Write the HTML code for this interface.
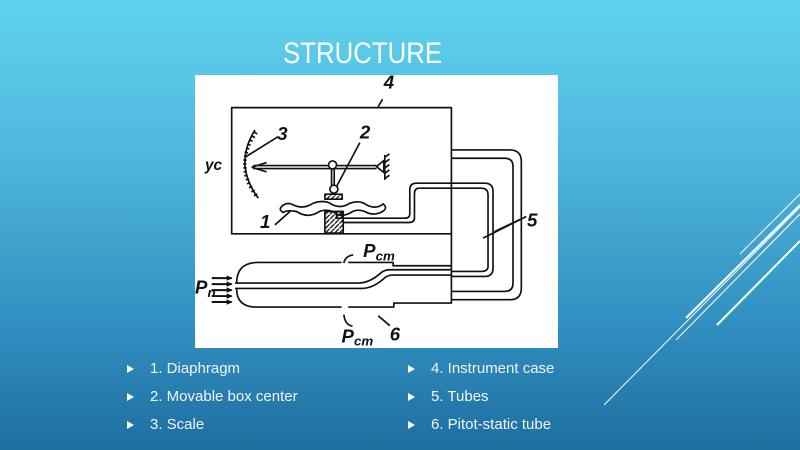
<!DOCTYPE html>
<html><head><meta charset="utf-8"><style>
html,body{margin:0;padding:0}
body{width:800px;height:450px;overflow:hidden;position:relative;background:linear-gradient(180deg,#5fd3ef 0%,#4fb6dc 35%,#3292c2 70%,#1e6ea0 100%);font-family:"Liberation Sans",sans-serif}
.t{position:absolute;left:283px;top:37px;font-size:30px;color:#fff;transform:scaleX(0.86);transform-origin:0 0}
.b{position:absolute;font-size:15px;color:#f2f6fa;line-height:28px}
.b div{position:relative;padding-left:23px;white-space:nowrap}
.b div:before{content:"";position:absolute;left:0;top:10px;border-left:7px solid #fff;border-top:4px solid transparent;border-bottom:4px solid transparent}
</style></head><body>
<svg width="800" height="450" style="position:absolute;left:0;top:0" stroke="#fff" fill="none">
<line x1="604" y1="405" x2="800" y2="207" stroke-width="1"/>
<line x1="686" y1="318" x2="800" y2="205" stroke-width="2"/>
<line x1="676" y1="340" x2="800" y2="214" stroke-width="1"/>
<line x1="717" y1="325" x2="800" y2="241" stroke-width="2"/>
<line x1="740" y1="254" x2="800" y2="194" stroke-width="1"/>
</svg>
<div class="t">STRUCTURE</div>
<svg style="position:absolute;left:195px;top:75px" width="363" height="273" viewBox="15 15 1090 820">
<defs><pattern id="h" width="14" height="14" patternUnits="userSpaceOnUse"><path d="M-2 16 L16 -2" stroke="#111" stroke-width="4"/></pattern></defs>
<rect x="15" y="15" width="1090" height="820" fill="#fff" stroke="none"/>
<g stroke="#111" stroke-width="5" fill="none" stroke-linejoin="round">
<rect x="125" y="113" width="660" height="379"/>
<path d="M785 240 H960 Q995 240 995 275 V655 Q995 690 960 690 H785"/>
<path d="M785 265 H945 Q970 265 970 290 V640 Q970 665 945 665 H785"/>
<path d="M785 620 H885 Q910 620 910 595 V365 Q910 340 885 340 H680 Q660 340 660 360 V432 Q660 445 645 445 H440 V425 H455 V435"/>
<path d="M785 605 H875 Q895 605 895 590 V375 Q895 355 875 355 H688 Q674 355 674 372 V445 Q674 458 657 458 H460"/>
<rect x="405" y="425" width="55" height="65" fill="url(#h)"/>
<path d="M785 492 V700 H612 V712 H475 M455 712 H200 Q140 712 140 658"/>
<path d="M140 640 Q140 580 200 578 H455 M475 578 H610 V588 H785"/>
<path d="M135 640 H505 Q540 640 575 608 Q585 600 600 600 H785"/>
<path d="M135 656 H515 Q550 656 585 624 Q595 616 610 616 H785"/>
<path d="M195 180 Q130 285 205 385"/>
<path d="M192 186 l10 6 M185 198 l10 5 M178 210 l10 4 M172 222 l10 4 M168 234 l10 3 M164 246 l10 3 M162 258 l10 2 M160 270 l10 1 M159 282 l10 1 M160 294 l10 0 M161 306 l10 -1 M163 318 l10 -2 M167 330 l10 -3 M171 342 l10 -4 M177 354 l10 -5 M184 366 l10 -5 M192 378 l10 -6"/>
<path d="M190 287 H560 M190 296 H560"/>
<path d="M185 292 L230 278 M185 292 L230 306"/>
<circle cx="428" cy="285" r="12" fill="#fff"/>
<circle cx="432" cy="358" r="12" fill="#fff"/>
<path d="M425 298 V346 M433 298 V346"/>
<rect x="405" y="373" width="52" height="15" fill="url(#h)"/>
<path d="M275 410 Q290 395 310 405 Q340 420 370 400 Q400 390 420 400 Q450 420 480 400 Q510 390 530 405 Q560 420 580 402 Q595 415 578 425 Q550 440 525 425 Q500 415 480 430 Q450 445 430 425 Q400 415 380 430 Q350 445 320 425 Q290 420 280 428 Q265 420 275 410"/>
<path d="M560 290 L582 272 V308 Z M585 255 V330"/>
<path d="M585 262 l14 -10 M585 278 l14 -10 M585 294 l14 -10 M585 310 l14 -10 M585 326 l14 -10"/>
<path d="M255 465 L300 425 M165 262 L265 200 M440 350 L510 218 M565 110 L578 88 M915 485 L1010 440 M880 505 L1010 440 M565 738 L600 768"/>
<path d="M490 555 Q465 560 462 580 M488 770 Q465 765 462 735"/>
</g>
<g fill="#111" font-family="Liberation Sans" font-style="italic" font-weight="bold" font-size="56">
<text x="582" y="55">4</text><text x="510" y="205">2</text><text x="262" y="210">3</text>
<text x="45" y="300" font-size="46">yc</text><text x="210" y="475">1</text>
<text x="1012" y="470">5</text><text x="600" y="812">6</text>
<text x="520" y="562">P<tspan font-size="40" dy="10">cm</tspan></text>
<text x="455" y="818">P<tspan font-size="40" dy="10">cm</tspan></text>
<text x="15" y="672">P<tspan font-size="40" dy="10">n</tspan></text>
</g>
<g stroke="#111" stroke-width="6"><path d="M65 625 H125 M65 643 H125 M65 661 H125 M65 679 H125 M65 697 H125"/></g>
<g fill="#111"><path d="M128 625 l-18 -8 v16z M128 643 l-18 -8 v16z M128 661 l-18 -8 v16z M128 679 l-18 -8 v16z M128 697 l-18 -8 v16z"/></g>
</svg>
<div class="b" style="left:127px;top:355px"><div>1. Diaphragm</div><div>2. Movable box center</div><div>3. Scale</div></div>
<div class="b" style="left:408px;top:355px"><div>4. Instrument case</div><div>5. Tubes</div><div>6. Pitot-static tube</div></div>
</body></html>
